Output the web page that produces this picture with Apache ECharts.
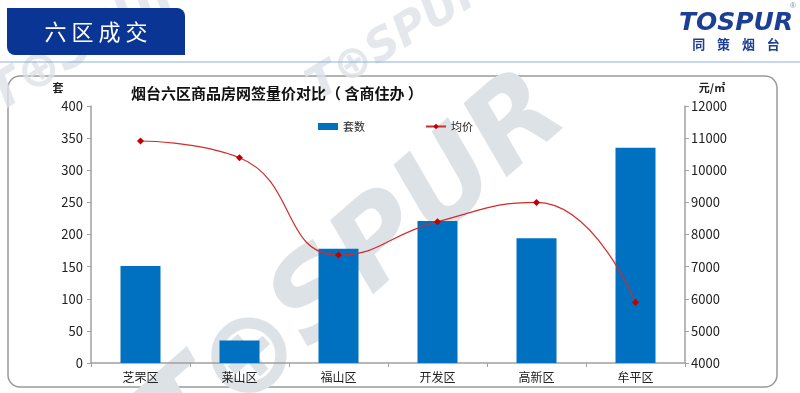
<!DOCTYPE html>
<html><head><meta charset="utf-8">
<script src="https://cdn.jsdelivr.net/npm/echarts@6/dist/echarts.min.js"></script>
<style>html,body{margin:0;padding:0;background:#fff}#c{width:800px;height:393px}</style>
</head><body><div id="c"></div>
<script>
const categories = ['芝罘区','莱山区','福山区','开发区','高新区','牟平区'];
const countValues = [151, 35, 178, 221, 194, 335];
const priceValues = [10910, 10390, 7360, 8400, 9000, 5890];
const leftTicks = [0, 400, 50];
const rightTicks = [4000, 12000, 1000];

const chart = echarts.init(document.getElementById('c'), null, {renderer:'canvas'});
const font = '"Microsoft YaHei","Noto Sans CJK SC",sans-serif';
const wm = (x,y,size,rot,op)=>({type:'text', x:x, y:y, rotation:rot, z:0, silent:true,
  style:{text:'T⊕SPUR', font:'italic bold '+size+'px "DejaVu Sans",sans-serif', fill:'#dde2e7', opacity:op}});
chart.setOption({
  animation:false,
  textStyle:{fontFamily:font},
  graphic:[
    {type:'rect', shape:{x:8,y:76,width:769,height:311,r:12}, z:-10, style:{fill:'#fff', stroke:'#9a9a9a', lineWidth:1.5}},
    wm(120,400,115,0.72,1),
    wm(-20,80,50,0.55,0.8),
    wm(300,72,45,0.55,0.8),
    {type:'rect', shape:{x:7,y:8,width:178,height:47,r:[0,8,0,8]}, z:5, style:{fill:'#0b3594'}},
    {type:'text', x:96, y:32, z:6, style:{text:'六 区 成 交', font:'22px '+font, fill:'#fff', align:'center', verticalAlign:'middle'}},
    {type:'line', shape:{x1:0,y1:62,x2:800,y2:62}, z:5, style:{stroke:'#8eaedb', lineWidth:1}},
    {type:'text', x:736, y:23, z:6, style:{text:'TOSPUR', font:'italic 900 25px "DejaVu Sans",sans-serif', fill:'#1d3f93', align:'center', verticalAlign:'middle'}},
    {type:'text', x:793, y:6, z:6, style:{text:'®', font:'8px sans-serif', fill:'#7a8fb8', align:'center', verticalAlign:'middle'}},
    {type:'text', x:736, y:44, z:6, style:{text:'同    策    烟    台', font:'bold 13px '+font, fill:'#1d3f93', align:'center', verticalAlign:'middle'}},
    {type:'text', x:58, y:88, z:6, style:{text:'套', font:'bold 11px '+font, fill:'#222', align:'center', verticalAlign:'middle'}},
    {type:'text', x:712, y:88, z:6, style:{text:'元/㎡', font:'bold 11px '+font, fill:'#222', align:'center', verticalAlign:'middle'}}
  ],
  title:{text:'烟台六区商品房网签量价对比（ 含商住办 ）', left:126, top:81,
    textStyle:{fontSize:15, fontWeight:'bold', color:'#111', fontFamily:font}},
  legend:{top:116, left:313, itemGap:60, itemWidth:20, itemHeight:7,
    textStyle:{fontSize:11, color:'#222'},
    data:[{name:'套数', icon:'rect'}, {name:'均价'}]},
  grid:{left:91, right:115, top:106, bottom:30},
  xAxis:{type:'category', data:categories, boundaryGap:true,
    axisLine:{lineStyle:{color:'#a0a0a0', width:1.5}},
    axisTick:{show:true, alignWithLabel:false, length:4, lineStyle:{color:'#a0a0a0'}},
    axisLabel:{color:'#222', fontSize:12, margin:8}},
  yAxis:[
    {type:'value', min:leftTicks[0], max:leftTicks[1], interval:leftTicks[2],
     axisLine:{show:true, lineStyle:{color:'#a0a0a0', width:1.5}},
     axisTick:{show:true, length:4, lineStyle:{color:'#a0a0a0'}},
     splitLine:{show:false}, axisLabel:{color:'#222', fontSize:13, margin:8}},
    {type:'value', min:rightTicks[0], max:rightTicks[1], interval:rightTicks[2], position:'right',
     axisLine:{show:true, lineStyle:{color:'#a0a0a0', width:1.5}},
     axisTick:{show:true, length:4, lineStyle:{color:'#a0a0a0'}},
     splitLine:{show:false}, axisLabel:{color:'#222', fontSize:13, margin:6, formatter:v=>String(v)}}
  ],
  series:[
    {name:'套数', type:'bar', data:countValues, barWidth:40, z:3,
     itemStyle:{color:'#0070c0'}},
    {name:'均价', type:'line', yAxisIndex:1, data:priceValues, smooth:0.5, z:4,
     symbol:'diamond', symbolSize:7,
     lineStyle:{color:'#d42a2a', width:1.2},
     itemStyle:{color:'#c00000'}}
  ]
});
</script></body></html>
